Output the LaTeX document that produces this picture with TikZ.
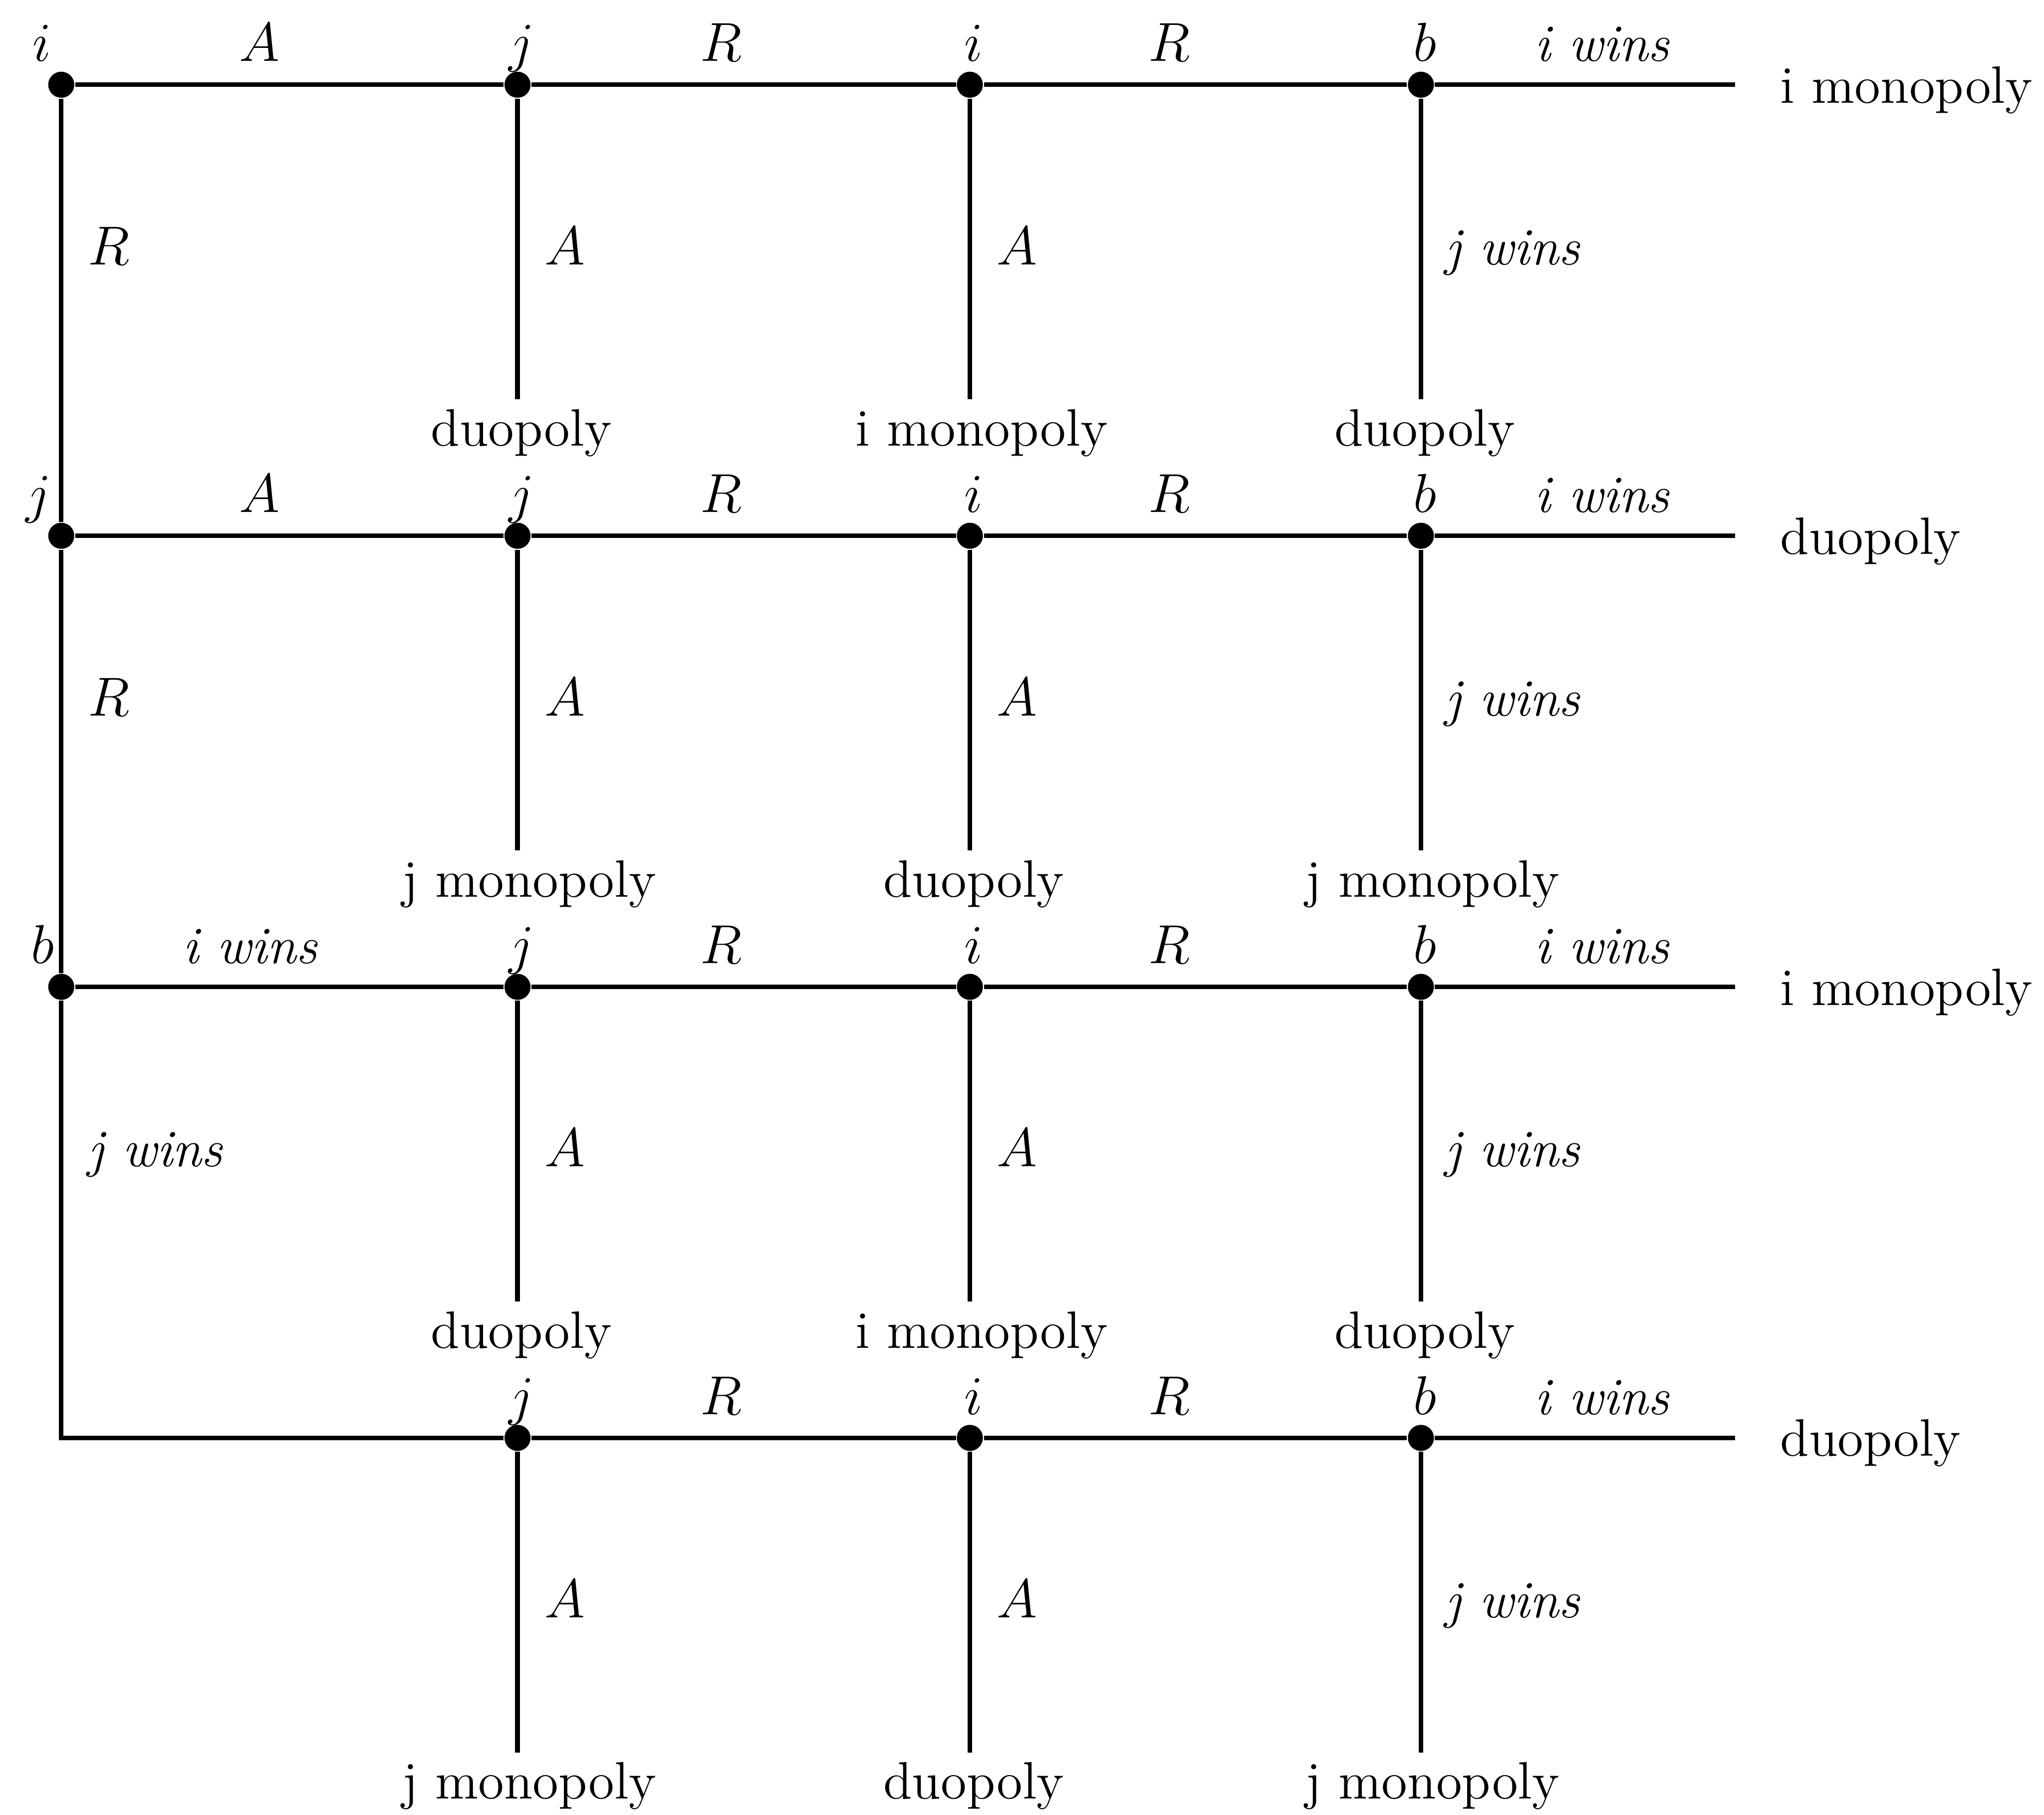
\documentclass[tikz,border=0pt]{standalone}
\usepackage{tikz}
\usetikzlibrary{calc,positioning}

\begin{document}
\begin{tikzpicture}[
        y=-1cm,
        font=\fontsize{11.5}{14}\selectfont,
        move/.style={circle, fill=black, inner sep=0pt, minimum size=2mm},
        branch/.style={line width=1pt},
        act/.style={inner sep=0pt, anchor=base},
        outcome/.style={inner sep=0.07cm, anchor=base}
    ]
        \useasboundingbox (0,0) rectangle (15.68,13.92);

        % decision nodes
        \node[move] (n10) at (0.47,0.65) {};
        \node[move] (n11) at (3.97,0.65) {};
        \node[move] (n12) at (7.44,0.65) {};
        \node[move] (n13) at (10.90,0.65) {};
        \node[move] (n20) at (0.47,4.11) {};
        \node[move] (n21) at (3.97,4.11) {};
        \node[move] (n22) at (7.44,4.11) {};
        \node[move] (n23) at (10.90,4.11) {};
        \node[move] (n30) at (0.47,7.57) {};
        \node[move] (n31) at (3.97,7.57) {};
        \node[move] (n32) at (7.44,7.57) {};
        \node[move] (n33) at (10.90,7.57) {};
        \coordinate (c40) at (0.47,11.03);
        \node[move] (n41) at (3.97,11.03) {};
        \node[move] (n42) at (7.44,11.03) {};
        \node[move] (n43) at (10.90,11.03) {};

        \coordinate (e1) at (13.31,0.65);
        \coordinate (e2) at (13.31,4.11);
        \coordinate (e3) at (13.31,7.57);
        \coordinate (e4) at (13.31,11.03);

        % who moves
        \node[act, anchor=base east] (p10) at (0.40,0.47) {$i$};
        \node[act] (p11) at (4.00,0.47) {$j$};
        \node[act] (p12) at (7.47,0.47) {$i$};
        \node[act] (p13) at (10.93,0.47) {$b$};
        \node[act, anchor=base east] (p20) at (0.40,3.93) {$j$};
        \node[act] (p21) at (4.00,3.93) {$j$};
        \node[act] (p22) at (7.47,3.93) {$i$};
        \node[act] (p23) at (10.93,3.93) {$b$};
        \node[act, anchor=base east] (p30) at (0.42,7.39) {$b$};
        \node[act] (p31) at (4.00,7.39) {$j$};
        \node[act] (p32) at (7.47,7.39) {$i$};
        \node[act] (p33) at (10.93,7.39) {$b$};
        \node[act] (p41) at (4.00,10.85) {$j$};
        \node[act] (p42) at (7.47,10.85) {$i$};
        \node[act] (p43) at (10.93,10.85) {$b$};

        % horizontal branches
        \draw[branch] (n10) -- (n11) -- (n12) -- (n13) -- (e1);
        \draw[branch] (n20) -- (n21) -- (n22) -- (n23) -- (e2);
        \draw[branch] (n30) -- (n31) -- (n32) -- (n33) -- (e3);
        \draw[branch] (n30) -- (c40) -- (n41) -- (n42) -- (n43) -- (e4);
        \draw[branch] (n10) -- (n20);
        \draw[branch] (n20) -- (n30);

        \node[act] (h11) at (1.99,0.47) {$A$};
        \node[act] (h12) at (5.53,0.47) {$R$};
        \node[act] (h13) at (8.97,0.47) {$R$};
        \node[act] (h14) at (12.29,0.47) {\textit{i wins}};
        \node[act] (h21) at (1.99,3.93) {$A$};
        \node[act] (h22) at (5.53,3.93) {$R$};
        \node[act] (h23) at (8.97,3.93) {$R$};
        \node[act] (h24) at (12.29,3.93) {\textit{i wins}};
        \node[act] (h31) at (1.92,7.39) {\textit{i wins}};
        \node[act] (h32) at (5.53,7.39) {$R$};
        \node[act] (h33) at (8.97,7.39) {$R$};
        \node[act] (h34) at (12.29,7.39) {\textit{i wins}};
        \node[act] (h42) at (5.53,10.85) {$R$};
        \node[act] (h43) at (8.97,10.85) {$R$};
        \node[act] (h44) at (12.29,10.85) {\textit{i wins}};

        % vertical branch labels
        \node[act, anchor=base west] (v10) at (0.67,2.03) {$R$};
        \node[act, anchor=base west] (v20) at (0.67,5.49) {$R$};
        \node[act, anchor=base west] (v30) at (0.67,8.95) {\textit{j wins}};
        \node[act, anchor=base west] (v11) at (4.17,2.03) {$A$};
        \node[act, anchor=base west] (v12) at (7.64,2.03) {$A$};
        \node[act, anchor=base west] (v13) at (11.08,2.03) {\textit{j wins}};
        \node[act, anchor=base west] (v21) at (4.17,5.49) {$A$};
        \node[act, anchor=base west] (v22) at (7.64,5.49) {$A$};
        \node[act, anchor=base west] (v23) at (11.08,5.49) {\textit{j wins}};
        \node[act, anchor=base west] (v31) at (4.17,8.95) {$A$};
        \node[act, anchor=base west] (v32) at (7.64,8.95) {$A$};
        \node[act, anchor=base west] (v33) at (11.08,8.95) {\textit{j wins}};
        \node[act, anchor=base west] (v41) at (4.17,12.41) {$A$};
        \node[act, anchor=base west] (v42) at (7.64,12.41) {$A$};
        \node[act, anchor=base west] (v43) at (11.08,12.41) {\textit{j wins}};

        % outcomes
        \node[outcome] (o11) at (4.00,3.42) {duopoly};
        \node[outcome] (o12) at (7.53,3.42) {i monopoly};
        \node[outcome] (o13) at (10.93,3.42) {duopoly};
        \node[outcome] (o21) at (4.06,6.88) {j monopoly};
        \node[outcome] (o22) at (7.47,6.88) {duopoly};
        \node[outcome] (o23) at (10.99,6.88) {j monopoly};
        \node[outcome] (o31) at (4.00,10.34) {duopoly};
        \node[outcome] (o32) at (7.53,10.34) {i monopoly};
        \node[outcome] (o33) at (10.93,10.34) {duopoly};
        \node[outcome] (o41) at (4.06,13.80) {j monopoly};
        \node[outcome] (o42) at (7.47,13.80) {duopoly};
        \node[outcome] (o43) at (10.99,13.80) {j monopoly};
        \node[outcome, anchor=base west] (o14) at (13.58,0.79) {i monopoly};
        \node[outcome, anchor=base west] (o24) at (13.58,4.25) {duopoly};
        \node[outcome, anchor=base west] (o34) at (13.58,7.71) {i monopoly};
        \node[outcome, anchor=base west] (o44) at (13.58,11.17) {duopoly};

        \draw[branch] (n11) -- (n11 |- o11.north);
        \draw[branch] (n12) -- (n12 |- o12.north);
        \draw[branch] (n13) -- (n13 |- o13.north);
        \draw[branch] (n21) -- (n21 |- o21.north);
        \draw[branch] (n22) -- (n22 |- o22.north);
        \draw[branch] (n23) -- (n23 |- o23.north);
        \draw[branch] (n31) -- (n31 |- o31.north);
        \draw[branch] (n32) -- (n32 |- o32.north);
        \draw[branch] (n33) -- (n33 |- o33.north);
        \draw[branch] (n41) -- (n41 |- o41.north);
        \draw[branch] (n42) -- (n42 |- o42.north);
        \draw[branch] (n43) -- (n43 |- o43.north);
    \end{tikzpicture}
\end{document}
